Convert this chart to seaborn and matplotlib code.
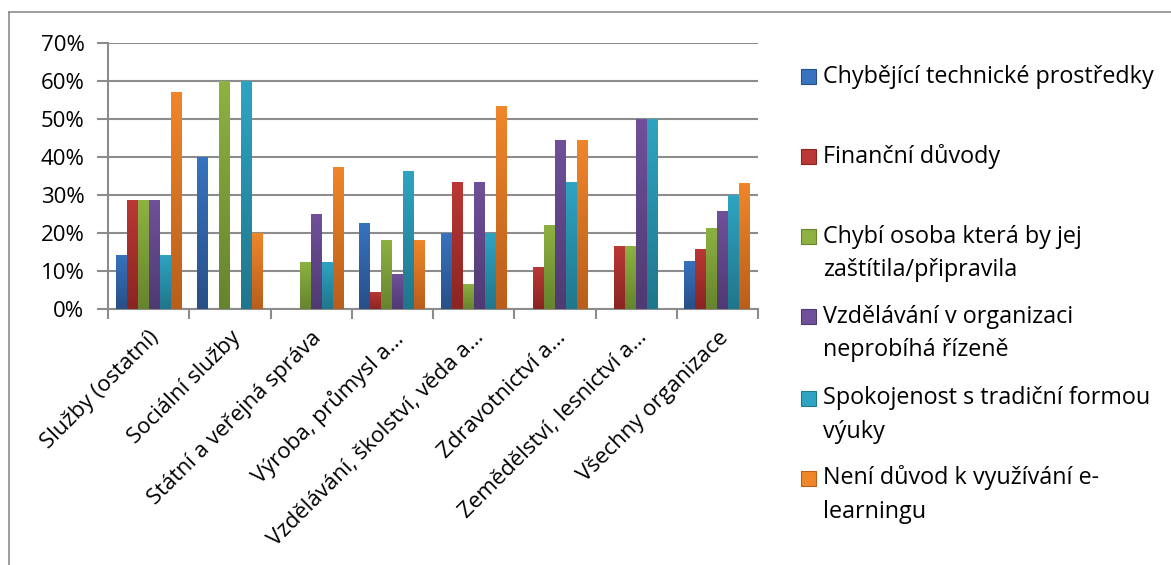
import numpy as np
import pandas as pd
import matplotlib
matplotlib.use("Agg")
import matplotlib.pyplot as plt
import seaborn as sns
from matplotlib.patches import Rectangle
from matplotlib.lines import Line2D
from matplotlib.colors import to_rgb
from matplotlib.transforms import ScaledTranslation

categories = [
    "Služby (ostatní)",
    "Sociální služby",
    "Státní a veřejná správa",
    "Výroba, průmysl a…",
    "Vzdělávání, školství, věda a…",
    "Zdravotnictví a…",
    "Zemědělství, lesnictví a…",
    "Všechny organizace",
]
series = [
    "Chybějící technické prostředky",
    "Finanční důvody",
    "Chybí osoba která by jej\nzaštítila/připravila",
    "Vzdělávání v organizaci\nneprobíhá řízeně",
    "Spokojenost s tradiční formou\nvýuky",
    "Není důvod k využívání e-\nlearningu",
]
chybejici = [14.3, 40.0, 0.0, 22.7, 20.0, 0.0, 0.0, 12.7]
financni = [28.6, 0.0, 0.0, 4.5, 33.3, 11.1, 16.7, 15.9]
chybi_osoba = [28.6, 60.0, 12.5, 18.2, 6.7, 22.2, 16.7, 21.4]
nerizene = [28.6, 0.0, 25.0, 9.1, 33.3, 44.4, 50.0, 25.7]
spokojenost = [14.3, 60.0, 12.5, 36.4, 20.0, 33.3, 50.0, 29.9]
neni_duvod = [57.1, 20.0, 37.5, 18.2, 53.3, 44.4, 0.0, 33.1]
values = [chybejici, financni, chybi_osoba, nerizene, spokojenost, neni_duvod]
yticks = [0, 10, 20, 30, 40, 50, 60, 70]

top_colors = ["#3773BE", "#BA3835", "#8DB241", "#70509A", "#2EA4C2", "#F0862A"]
bot_colors = ["#284F88", "#8A2522", "#66842E", "#4F3A72", "#20768C", "#B95E1B"]

rows = []
for s, vals in zip(series, values):
    for c, v in zip(categories, vals):
        rows.append({"cat": c, "series": s, "val": v / 100.0})
df = pd.DataFrame(rows)

W, H = 1171, 565
fig = plt.figure(figsize=(W / 100, H / 100), dpi=100)
fig.patch.set_facecolor("white")
ax = fig.add_axes([108 / W, 1 - 309 / H, (758 - 108) / W, (309 - 43) / H])

font = "Open Sans"
fs_tick = 16
fs_x = 16
fs_leg = 16.8

sns.barplot(data=df, x="cat", y="val", hue="series", order=categories,
            hue_order=series, palette=top_colors, width=0.81, gap=0,
            saturation=1, legend=False, ax=ax, zorder=3, linewidth=0)

# gradient fill for each bar
for i, p in enumerate(ax.patches):
    h = p.get_height()
    if h <= 0:
        continue
    si = i // len(categories)
    t = np.array(to_rgb(top_colors[si % 6]))
    b = np.array(to_rgb(bot_colors[si % 6]))
    grad = np.linspace(0, 1, 64)[:, None, None]
    img = t * (1 - grad) + b * grad
    x0 = p.get_x()
    w = p.get_width()
    im = ax.imshow(img, extent=[x0, x0 + w, 0, h], aspect="auto",
                   origin="upper", zorder=3.5, interpolation="bilinear")
    im.set_clip_path(p)

ax.set_xlim(-0.5, len(categories) - 0.5)
ax.set_ylim(0, 0.7)
ax.set_yticks([v / 100 for v in yticks])
ax.set_yticklabels([f"{v}%" for v in yticks], fontsize=fs_tick, family=font)
ax.set_xticks(range(len(categories)))
ax.set_xticklabels(categories, rotation=45, ha="right", va="top",
                   rotation_mode="anchor", fontsize=fs_x, family=font)
offset = ScaledTranslation(-2 / 100, 0, fig.dpi_scale_trans)
for lab in ax.get_xticklabels():
    lab.set_transform(lab.get_transform() + offset)
ax.set_xticks(np.arange(-0.5, len(categories), 1.0), minor=True)
ax.tick_params(axis="x", which="major", length=0, pad=13)
ax.tick_params(axis="x", which="minor", length=7, width=1.5, color="#8c8c8c")
ax.tick_params(axis="y", length=8, width=1.5, color="#8c8c8c", pad=9)
ax.set_xlabel("")
ax.set_ylabel("")
ax.grid(axis="y", color="#8c8c8c", linewidth=1.5, zorder=0)
ax.set_axisbelow(True)
for side in ["top", "right"]:
    ax.spines[side].set_visible(False)
for side in ["left", "bottom"]:
    ax.spines[side].set_color("#8c8c8c")
    ax.spines[side].set_linewidth(1.5)
ax.set_facecolor("white")

# outer frame
fig.add_artist(Line2D([9 / W, 9 / W], [0, 1 - 12 / H], color="#8c8c8c", lw=1.2))
fig.add_artist(Line2D([9 / W, 1], [1 - 12 / H, 1 - 12 / H], color="#8c8c8c", lw=1.2))

# legend
first_y = [76.7, 156.7, 236.7, 316.7, 398, 478]
line_h = 33.5
for s, y0, tc, bc in zip(series, first_y, top_colors, bot_colors):
    fig.add_artist(Rectangle((801 / W, 1 - (y0 + 7.5) / H), 15 / W, 15 / H,
                             facecolor=tc, edgecolor=bc, lw=0.8,
                             transform=fig.transFigure))
    for j, line in enumerate(s.split("\n")):
        fig.text(823 / W, 1 - (y0 + j * line_h) / H, line, fontsize=fs_leg,
                 family=font, va="center", ha="left", color="#000000")

fig.savefig("out.png", dpi=100, facecolor="white")
